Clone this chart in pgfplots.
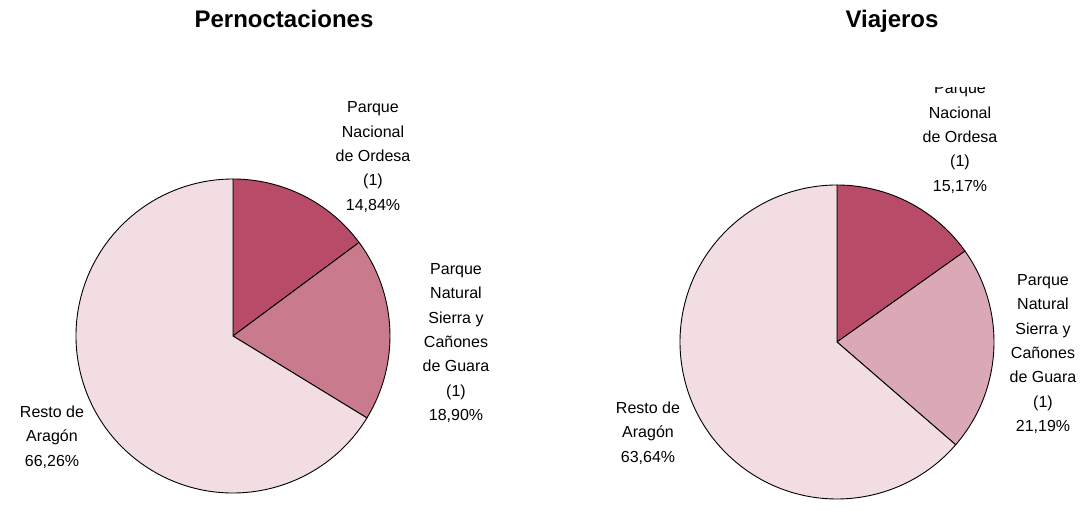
\documentclass[border=0pt]{standalone}
\usepackage{pgfplots}
\usepackage{pgfplotstable}
\pgfplotsset{compat=1.18}
\usepackage{fontspec}
\setmainfont{Liberation Sans}

\definecolor{ordesa}{HTML}{B84C68}
\definecolor{guaraA}{HTML}{C97B8D}
\definecolor{guaraB}{HTML}{DBA9B5}
\definecolor{resto}{HTML}{F2DDE2}

\tikzset{lbl/.style={align=center, font=\fontsize{16}{24.3}\selectfont}}

% shares in percent
\pgfplotstableread{
region value
Ordesa 14.84
Guara 18.90
Resto 66.26
}\pernoctaciones

\pgfplotstableread{
region value
Ordesa 15.17
Guara 21.19
Resto 63.64
}\viajeros

% pie: table, cx, cy, colour of 2nd slice
\newcommand\pie[4]{%
  \pgfplotstablegetelem{0}{value}\of#1\let\va\pgfplotsretval
  \pgfplotstablegetelem{1}{value}\of#1\let\vb\pgfplotsretval
  \pgfmathsetmacro\aA{90}
  \pgfmathsetmacro\aB{90-3.6*\va}
  \pgfmathsetmacro\aC{\aB-3.6*\vb}
  \pgfmathsetmacro\aD{-270}
  \edef\temp{%
    \noexpand\fill[fill=ordesa,draw=black,line width=0.9pt] (axis cs:#2,#3) -- ++(\aA:157pt) arc[start angle=\aA,end angle=\aB,radius=157pt] -- cycle;
    \noexpand\fill[fill=#4,draw=black,line width=0.9pt] (axis cs:#2,#3) -- ++(\aB:157pt) arc[start angle=\aB,end angle=\aC,radius=157pt] -- cycle;
    \noexpand\fill[fill=resto,draw=black,line width=0.9pt] (axis cs:#2,#3) -- ++(\aC:157pt) arc[start angle=\aC,end angle=\aD,radius=157pt] -- cycle;
  }\temp
}

\begin{document}
\begin{tikzpicture}
\begin{axis}[
  hide axis,
  scale only axis,
  width=1084pt, height=501pt,
  xmin=0, xmax=1084, ymin=0, ymax=501,
  clip=false,
]
\addplot[draw=none] coordinates {(0,0) (1084,501)};
\pie{\pernoctaciones}{233}{165}{guaraA}
\pie{\viajeros}{837}{159}{guaraB}

\node[anchor=base, font=\fontsize{24}{28}\selectfont\bfseries] at (axis cs:284,473) {Pernoctaciones};
\node[anchor=base, font=\fontsize{24}{28}\selectfont\bfseries] at (axis cs:892,473) {Viajeros};

\node[lbl] at (axis cs:373,344) {Parque\\Nacional\\de Ordesa\\(1)\\14,84\%};
\node[lbl] at (axis cs:456,158) {Parque\\Natural\\Sierra y\\Cañones\\de Guara\\(1)\\18,90\%};
\node[lbl] at (axis cs:52,64) {Resto de\\Aragón\\66,26\%};

\begin{scope}
  \clip (axis cs:880,250) rectangle (axis cs:1040,413);
  \node[lbl] at (axis cs:960,363) {Parque\\Nacional\\de Ordesa\\(1)\\15,17\%};
\end{scope}
\node[lbl] at (axis cs:1043,147) {Parque\\Natural\\Sierra y\\Cañones\\de Guara\\(1)\\21,19\%};
\node[lbl] at (axis cs:648,68) {Resto de\\Aragón\\63,64\%};
\end{axis}
\end{tikzpicture}
\end{document}
